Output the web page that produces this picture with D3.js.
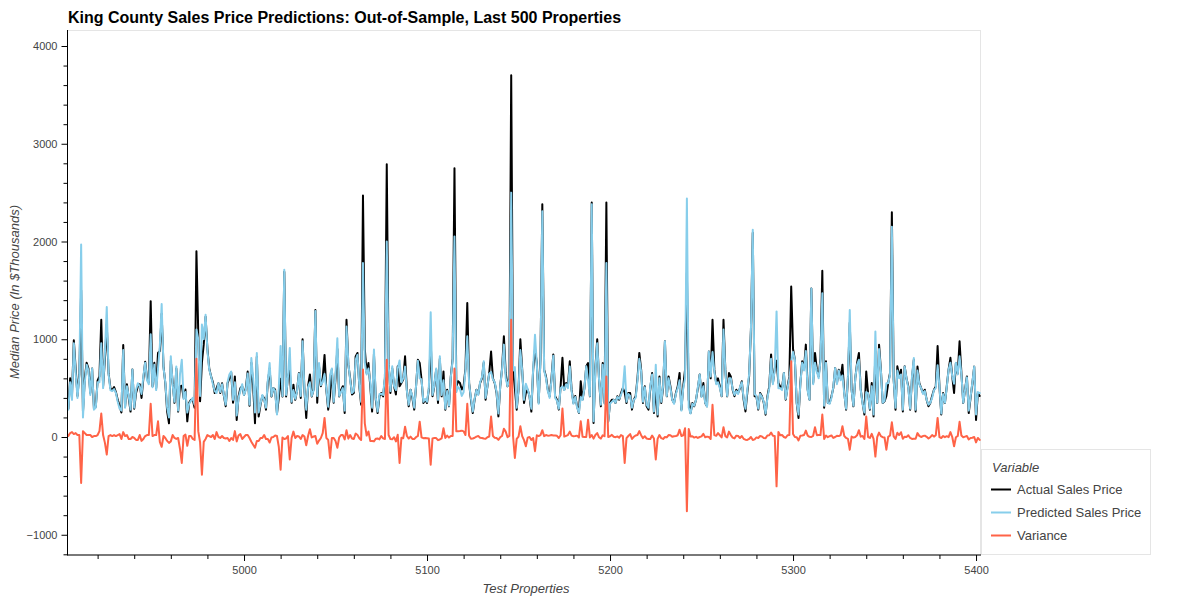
<!DOCTYPE html>
<html><head><meta charset="utf-8">
<script src="https://cdn.jsdelivr.net/npm/d3@7"></script>
<style>
body{margin:0;background:#fff;}
text{font-family:"Liberation Sans",Arial,Helvetica,sans-serif;}
</style>
</head><body>
<svg id="chart" width="1200" height="600"></svg>
<script>
// ---- data ----
const firstProperty = 4903;
const actual = [
470,290,600,430,990,700,420,640,1500,260,
600,760,700,450,700,290,310,580,620,1200,
520,800,1150,650,500,480,510,460,380,320,
250,940,310,540,400,260,690,290,450,520,
540,400,600,770,600,560,1390,520,760,500,
860,880,1260,720,550,260,140,780,560,350,
700,260,520,525,400,485,160,350,380,380,
300,1900,1060,365,765,950,1230,900,700,620,
560,450,500,550,450,550,420,315,550,600,
660,350,620,175,415,500,520,430,500,670,
320,760,520,140,820,210,330,420,400,280,
560,700,415,500,485,240,400,595,415,1690,
415,620,680,350,535,380,480,655,400,1000,
485,195,520,640,415,485,1300,350,720,520,
600,840,480,280,420,690,350,600,900,415,
480,520,245,1200,740,600,435,450,825,860,
518,330,2470,900,655,757,518,260,850,382,
245,416,450,416,600,2790,760,450,700,518,
435,723,518,552,587,825,480,314,484,400,
280,518,790,757,587,348,380,348,484,992,
416,520,689,348,800,416,670,280,484,314,
620,800,2750,518,570,552,485,518,700,1370,
552,382,245,382,484,440,552,600,760,382,
518,655,875,600,552,450,211,518,700,1030,
655,518,600,3700,690,500,280,484,1000,689,
348,450,484,416,260,689,900,757,350,800,
2380,689,620,484,416,600,845,416,382,280,
518,810,484,552,520,775,484,348,420,314,
245,570,382,500,723,757,416,2400,143,700,
1000,587,314,757,348,2400,160,348,382,382,
348,416,382,450,500,458,348,450,450,280,
382,416,600,860,689,348,518,314,280,500,
655,245,510,211,620,348,500,980,416,620,
518,382,348,450,518,655,280,518,689,1680,
382,245,348,314,382,500,640,416,552,348,
314,875,600,1200,689,552,600,518,416,1200,
689,416,655,620,484,416,484,450,500,570,
382,262,450,620,1100,2090,416,416,280,450,
416,350,228,416,518,845,552,700,780,552,
518,500,655,382,518,620,1540,900,790,348,
195,552,775,700,945,484,382,1520,552,860,
689,620,800,1700,300,775,348,348,416,500,
706,552,689,600,740,450,280,600,1170,484,
314,600,757,860,484,350,230,670,450,280,
552,211,880,348,945,689,348,365,420,552,
655,2300,587,280,723,620,689,262,723,600,
518,280,600,790,262,720,552,500,450,484,
382,314,348,420,484,518,930,518,230,450,
348,518,689,810,620,450,757,650,980,655,
348,484,620,245,400,552,720,175,450,420
];
const predicted = [
430,280,560,380,960,660,400,620,1970,200,
560,740,680,430,700,280,300,560,560,960,
500,860,1330,640,480,470,490,450,360,290,
270,890,300,520,420,280,690,300,480,550,
520,440,620,760,580,540,1050,510,740,480,
700,930,1360,710,560,300,200,825,540,360,
720,270,640,790,390,460,250,340,370,400,
330,1100,1000,420,1150,1000,1250,880,690,620,
540,470,450,550,460,540,430,330,560,640,
670,380,560,220,400,470,540,430,480,650,
330,808,600,250,860,250,340,430,380,300,
580,757,420,500,470,230,500,930,420,1710,
430,610,910,360,480,390,470,650,420,980,
480,280,510,560,420,480,1290,420,757,530,
560,645,490,310,635,700,360,640,1010,420,
460,500,270,1130,757,580,450,470,790,840,
530,360,1780,760,640,700,560,300,895,400,
260,440,440,430,620,2000,740,470,723,520,
480,700,783,560,600,720,470,330,480,420,
300,520,780,600,590,360,390,360,500,1275,
430,530,700,380,825,430,580,290,470,320,
610,790,2050,460,510,490,420,460,680,1030,
540,400,260,390,480,430,560,610,775,400,
520,650,665,590,560,460,240,520,690,945,
600,520,590,2500,680,715,300,480,890,680,
380,545,490,416,290,700,1045,740,340,780,
2310,680,600,470,400,580,830,400,370,290,
500,518,480,540,500,720,470,340,410,300,
250,410,380,500,723,580,420,2380,160,680,
960,590,330,740,340,1780,160,340,360,380,
350,410,390,430,490,723,360,440,420,300,
380,400,580,800,670,360,510,330,300,520,
640,260,740,230,600,360,520,980,420,600,
500,380,340,440,500,580,270,500,600,2440,
300,240,340,320,380,510,640,410,520,350,
310,875,620,870,670,540,560,500,420,1100,
680,420,600,600,490,430,470,440,510,560,
400,290,480,640,1100,2120,440,420,290,440,
410,360,240,400,500,800,540,690,1285,500,
500,480,655,390,500,600,765,870,790,350,
230,540,760,680,880,470,380,1520,540,760,
670,600,780,1470,320,760,350,340,400,510,
706,540,680,580,630,440,290,620,1300,480,
320,600,740,790,480,340,250,460,450,290,
520,230,1080,350,900,680,350,370,550,550,
640,2150,580,300,680,600,640,280,720,600,
500,290,620,808,280,680,540,500,440,470,
380,330,350,400,480,500,735,520,240,440,
350,510,690,760,620,545,760,640,825,640,
350,480,610,270,410,560,720,230,460,450
];
const seriesNames = ["Actual Sales Price", "Predicted Sales Price", "Variance"];
const seriesColors = ["#000000", "#87ceeb", "#ff6347"];
const xTicks = [5000, 5100, 5200, 5300, 5400];
const yTicks = [-1000, 0, 1000, 2000, 3000, 4000];
const titleText = "King County Sales Price Predictions: Out-of-Sample, Last 500 Properties";
const xLabel = "Test Properties";
const yLabel = "Median Price (In $Thousands)";
const legendTitle = "Variable";

// property index for each point; variance is actual minus predicted
const props = actual.map((_, i) => firstProperty + i);
const variance = actual.map((a, i) => a - predicted[i]);
const series = [actual, predicted, variance];

// ---- layout ----
const svg = d3.select("#chart");
const L = 67.5, R = 981, T = 30, B = 555;
const x = d3.scaleLinear().domain([4903, 5402]).range([66.5, 979.7]);
const y = d3.scaleLinear().domain([-1000, 4000]).range([534.75, 46]);

// outline
svg.append("rect").attr("x", L).attr("y", T + 0.5).attr("width", R - L - 0.5).attr("height", B - T - 0.5)
  .attr("fill", "none").attr("stroke", "#e5e5e5").attr("stroke-width", 1);

// clip
svg.append("defs").append("clipPath").attr("id", "plotclip")
  .append("rect").attr("x", L).attr("y", T).attr("width", R - L).attr("height", B - T);

const line = d3.line().x((d, i) => x(props[i])).y(d => y(d));
const gLines = svg.append("g").attr("clip-path", "url(#plotclip)");
series.forEach((s, k) => {
  gLines.append("path").datum(s).attr("d", line)
    .attr("fill", "none").attr("stroke", seriesColors[k])
    .attr("stroke-width", 2).attr("stroke-linejoin", "round").attr("stroke-linecap", "round");
});

// axes
const fmt = d3.format("d");
const yMinor = d3.range(-1200, 4201, 200).filter(v => v % 1000 !== 0 && y(v) >= T && y(v) <= B);
const xMinor = d3.range(4900, 5421, 20).filter(v => v % 100 !== 0 && x(v) >= L && x(v) <= R);

function styleAxis(g) {
  g.select(".domain").remove();
  g.selectAll(".tick line").attr("stroke", "#000");
  g.selectAll(".tick text").attr("fill", "#444").style("font-size", "11px")
    .style("font-family", "'Liberation Sans', Arial, Helvetica, sans-serif");
}

svg.append("g").attr("transform", `translate(${L},0)`)
  .call(d3.axisLeft(y).tickValues(yTicks).tickSize(6).tickPadding(4).tickFormat(fmt)).call(styleAxis);
svg.append("g").attr("transform", `translate(${L},0)`)
  .call(d3.axisLeft(y).tickValues(yMinor).tickSize(4).tickFormat("")).call(styleAxis);
svg.append("g").attr("transform", `translate(0,${B})`)
  .call(d3.axisBottom(x).tickValues(xTicks).tickSize(6).tickPadding(5).tickFormat(fmt)).call(styleAxis);
svg.append("g").attr("transform", `translate(0,${B})`)
  .call(d3.axisBottom(x).tickValues(xMinor).tickSize(4).tickFormat("")).call(styleAxis);

// axis lines
svg.append("line").attr("x1", L).attr("x2", L).attr("y1", T).attr("y2", B + 0.5).attr("stroke", "#000");
svg.append("line").attr("x1", L).attr("x2", R).attr("y1", B).attr("y2", B).attr("stroke", "#000");

// title & labels
svg.append("text").attr("x", 68).attr("y", 23).text(titleText)
  .style("font-size", "16px").style("font-weight", "bold").attr("fill", "#000");
svg.append("text").attr("x", 526).attr("y", 593).attr("text-anchor", "middle").text(xLabel)
  .style("font-size", "13px").style("font-style", "italic").attr("fill", "#444");
svg.append("text").attr("transform", "translate(19,292) rotate(-90)").attr("text-anchor", "middle").text(yLabel)
  .style("font-size", "13px").style("font-style", "italic").attr("fill", "#444");

// legend
const lg = svg.append("g");
lg.append("rect").attr("x", 981.5).attr("y", 449.5).attr("width", 169).attr("height", 105)
  .attr("fill", "#fff").attr("stroke", "#e5e5e5");
lg.append("text").attr("x", 992).attr("y", 472).text(legendTitle)
  .style("font-size", "13px").style("font-style", "italic").attr("fill", "#444");
seriesNames.forEach((n, k) => {
  const yy = 489.5 + k * 23;
  lg.append("line").attr("x1", 991).attr("x2", 1011).attr("y1", yy).attr("y2", yy)
    .attr("stroke", seriesColors[k]).attr("stroke-width", 2);
  lg.append("text").attr("x", 1017).attr("y", yy).attr("dy", "0.36em").text(n)
    .style("font-size", "13px").attr("fill", "#444");
});
</script>
</body></html>
